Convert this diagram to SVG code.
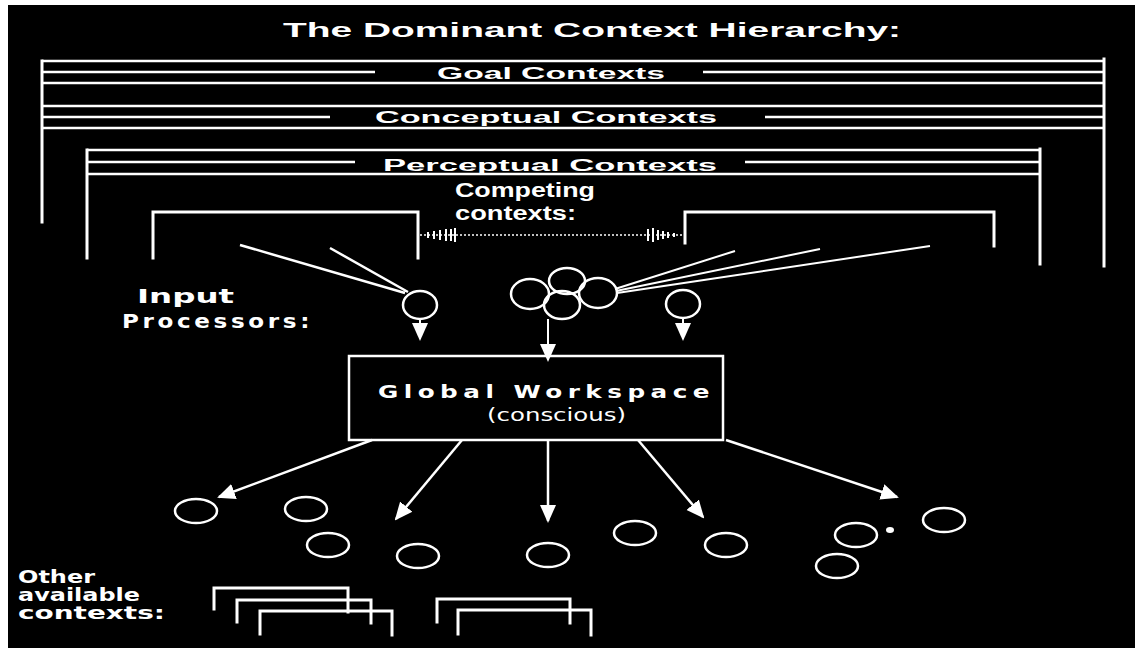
<svg xmlns="http://www.w3.org/2000/svg" width="1135" height="648" viewBox="0 0 1135 648">
<style>
.ln{stroke:#fff;stroke-width:3;fill:none;stroke-linecap:square}
.hl{stroke:#fff;stroke-width:2.5;fill:none}
.c{stroke:#fff;stroke-width:2.5;fill:none}
.cx{stroke:#fff;stroke-width:2.5;fill:none}
.t{fill:#fff;font-family:"Liberation Sans",Arial,sans-serif;font-weight:bold}
.td{fill:#fff;font-family:"DejaVu Sans",sans-serif;font-weight:bold}
.tn{fill:#fff;font-family:"DejaVu Sans",sans-serif}
.ar{stroke:#fff;stroke-width:2.5;fill:none}
</style>
<defs>
<marker id="ah" markerUnits="userSpaceOnUse" markerWidth="18" markerHeight="18" viewBox="0 0 18 18" refX="16" refY="9" orient="auto">
<path d="M0,1 L18,9 L0,17 Z" fill="#fff"/>
</marker>
</defs>
<rect x="0" y="0" width="1135" height="648" fill="#fff"/>
<rect x="8" y="5" width="1127" height="643" fill="#000"/>

<text class="t" x="592" y="37" font-size="20" text-anchor="middle" textLength="618" lengthAdjust="spacingAndGlyphs">The Dominant Context Hierarchy:</text>

<g id="goal-contexts">
<path class="hl" d="M42,61 H1103 M42,72 H375 M703,72 H1103 M42,83 H1103"/>
<text class="t" x="551" y="79" font-size="16" text-anchor="middle" textLength="228" lengthAdjust="spacingAndGlyphs">Goal Contexts</text>
</g>
<g id="conceptual-contexts">
<path class="hl" d="M42,106 H1103 M42,117 H330 M765,117 H1103 M42,128 H1103"/>
<text class="t" x="546" y="123" font-size="16" text-anchor="middle" textLength="342" lengthAdjust="spacingAndGlyphs">Conceptual Contexts</text>
<path class="ln" d="M42,61 V222 M1104,59 V266"/>
</g>
<g id="perceptual-contexts">
<path class="hl" d="M87,150 H1040 M87,162 H355 M745,162 H1040 M87,174 H1040"/>
<text class="t" x="550" y="171" font-size="16" text-anchor="middle" textLength="334" lengthAdjust="spacingAndGlyphs">Perceptual Contexts</text>
<path class="ln" d="M87,150 V258 M1040,149 V264"/>
</g>

<g id="competing-contexts">
<text class="t" x="455" y="197" font-size="20" textLength="140" lengthAdjust="spacingAndGlyphs">Competing</text>
<text class="t" x="455" y="220" font-size="20" textLength="121" lengthAdjust="spacingAndGlyphs">contexts:</text>
<path class="ln" d="M153,258 V212 H418 V258"/>
<path class="ln" d="M685,243 V212 H994 V246"/>
<path d="M420,235 H684" stroke="#fff" stroke-width="1.5" stroke-dasharray="2,2" fill="none"/>
<path d="M428,232 v6 M434,231 v8 M440,230 v10 M446,229 v12 M451,229 v12 M455,228 v14 M648,229 v12 M653,228 v14 M658,230 v10 M663,231 v8 M668,232 v6 M674,233 v4" stroke="#fff" stroke-width="2" fill="none"/>
</g>

<g id="input-processors">
<text class="td" x="137" y="303" font-size="19" textLength="97" lengthAdjust="spacingAndGlyphs">Input</text>
<text class="td" x="122" y="328" font-size="19" textLength="191" lengthAdjust="spacingAndGlyphs" letter-spacing="3">Processors:</text>
<ellipse class="c" cx="420" cy="305" rx="17" ry="14"/>
<ellipse class="c" cx="683" cy="304" rx="17" ry="14"/>
<ellipse class="c" cx="530" cy="294" rx="19" ry="15"/>
<ellipse class="c" cx="567" cy="281" rx="18" ry="13"/>
<ellipse class="c" cx="562" cy="305" rx="18" ry="14"/>
<ellipse class="c" cx="598" cy="293" rx="19" ry="15"/>
</g>

<g id="global-workspace">
<rect x="349" y="356" width="374" height="84" fill="#000" stroke="#fff" stroke-width="2.5"/>
<text class="td" x="378" y="398" font-size="18" textLength="337" lengthAdjust="spacingAndGlyphs" letter-spacing="4">Global Workspace</text>
<text class="tn" x="487" y="421" font-size="18" textLength="139" lengthAdjust="spacingAndGlyphs">(conscious)</text>
</g>

<g id="available-contexts">
<ellipse class="cx" cx="196" cy="511" rx="21" ry="12"/>
<ellipse class="cx" cx="306" cy="509" rx="21" ry="12"/>
<ellipse class="cx" cx="328" cy="545" rx="21" ry="12"/>
<ellipse class="cx" cx="418" cy="556" rx="21" ry="12"/>
<ellipse class="cx" cx="548" cy="555" rx="21" ry="12"/>
<ellipse class="cx" cx="635" cy="533" rx="21" ry="12"/>
<ellipse class="cx" cx="726" cy="545" rx="21" ry="12"/>
<ellipse class="cx" cx="856" cy="535" rx="21" ry="12"/>
<ellipse class="cx" cx="837" cy="566" rx="21" ry="12"/>
<ellipse class="cx" cx="944" cy="520" rx="21" ry="12"/>
<ellipse cx="890" cy="530" rx="4" ry="3" fill="#fff"/>
</g>

<g id="other-contexts">
<text class="td" x="18" y="583" font-size="17" textLength="77" lengthAdjust="spacingAndGlyphs">Other</text>
<text class="td" x="18" y="601" font-size="17" textLength="122" lengthAdjust="spacingAndGlyphs">available</text>
<text class="td" x="18" y="619" font-size="17" textLength="147" lengthAdjust="spacingAndGlyphs">contexts:</text>
<path class="ln" d="M214,609 V588 H348 V612"/>
<path class="ln" d="M237,622 V600 H371 V623"/>
<path class="ln" d="M260,634 V611 H392 V635"/>
<path class="ln" d="M437,622 V599 H570 V623"/>
<path class="ln" d="M458,634 V610 H591 V635"/>
</g>

<g id="connectors">
<path d="M240,245 L405,293 M330,248 L408,292" stroke="#fff" stroke-width="2.5" fill="none"/>
<path d="M615,289 L735,251 M616,291 L820,249 M617,293 L930,246" stroke="#fff" stroke-width="2" fill="none"/>
<path d="M420,319 V339" stroke="#fff" stroke-width="2" fill="none" marker-end="url(#ah)"/>
<path d="M683,318 V339" stroke="#fff" stroke-width="2" fill="none" marker-end="url(#ah)"/>
<path d="M548,319 V360" stroke="#fff" stroke-width="2" fill="none" marker-end="url(#ah)"/>
<path class="ar" d="M372,440 L219,497" marker-end="url(#ah)"/>
<path class="ar" d="M462,440 L396,519" marker-end="url(#ah)"/>
<path class="ar" d="M548,440 V521" marker-end="url(#ah)"/>
<path class="ar" d="M638,440 L703,517" marker-end="url(#ah)"/>
<path class="ar" d="M726,440 L897,497" marker-end="url(#ah)"/>
</g>
</svg>
